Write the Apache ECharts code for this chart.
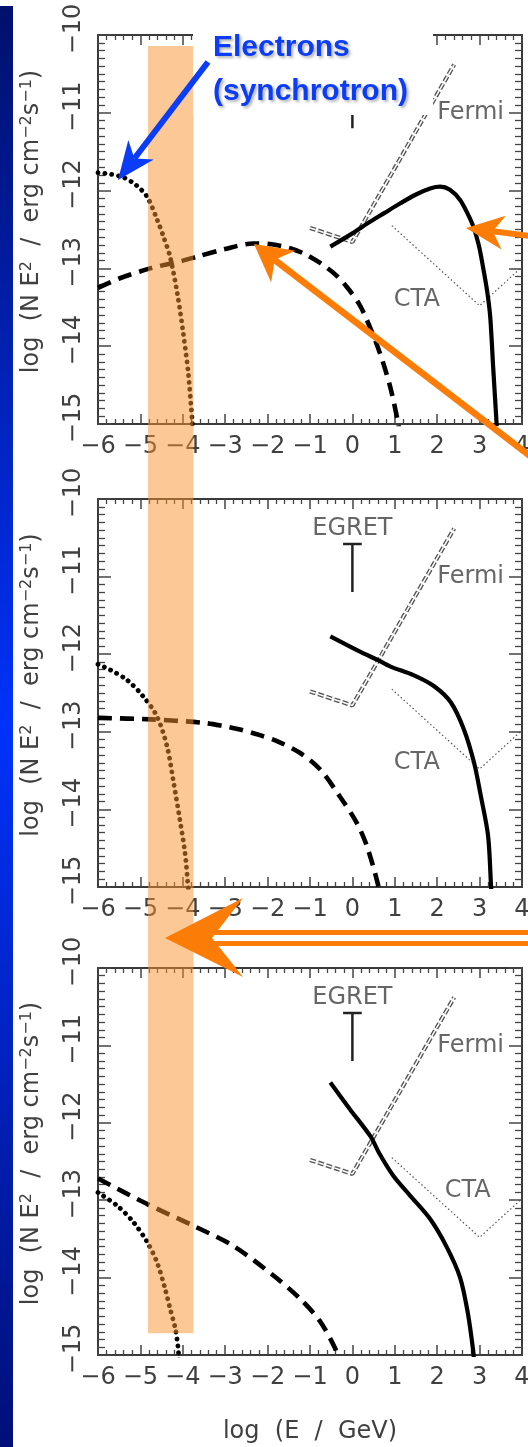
<!DOCTYPE html>
<html><head><meta charset="utf-8">
<script src="https://cdn.jsdelivr.net/npm/echarts@6/dist/echarts.min.js"></script>
<style>html,body{margin:0;padding:0;background:#fff}#c{width:528px;height:1447px}</style>
</head><body><div id="c"></div>
<script>
// ---------- data (log E [GeV], log NE^2 [erg cm^-2 s^-1]) ----------
const synchrotron1 = [[-6,-11.77],[-5.7,-11.79],[-5.4,-11.83],[-5.1,-11.93],[-4.84,-12.08],[-4.6,-12.38],[-4.45,-12.6],[-4.3,-12.85],[-4.13,-13.32],[-3.99,-13.83],[-3.87,-14.35],[-3.78,-14.95],[-3.76,-15.1]];
const inverseCompton1 = [[-6,-13.25],[-5.5,-13.13],[-4.77,-13.0],[-4,-12.9],[-3.67,-12.85],[-3,-12.75],[-2.34,-12.68],[-1.9,-12.69],[-1.47,-12.74],[-1.1,-12.82],[-0.76,-12.93],[-0.4,-13.08],[-0.13,-13.24],[0.15,-13.45],[0.34,-13.66],[0.65,-14.09],[0.89,-14.52],[1.08,-14.99],[1.1,-15.1]];
const hadronic1 = [[-0.52,-12.72],[0,-12.55],[0.36,-12.42],[0.75,-12.29],[1.14,-12.16],[1.5,-12.05],[1.85,-11.97],[2.07,-11.95],[2.3,-11.99],[2.54,-12.12],[2.72,-12.3],[2.85,-12.46],[2.98,-12.7],[3.08,-12.98],[3.18,-13.3],[3.25,-13.62],[3.32,-14.27],[3.4,-14.99],[3.41,-15.1]];

const synchrotron2 = [[-6,-12.13],[-5.72,-12.2],[-5.32,-12.33],[-4.94,-12.54],[-4.61,-12.8],[-4.37,-13.19],[-4.23,-13.61],[-4.07,-14.13],[-3.95,-14.55],[-3.88,-14.96],[-3.86,-15.1]];
const inverseCompton2 = [[-6,-12.82],[-4.77,-12.84],[-3.59,-12.88],[-3.1,-12.92],[-2.65,-12.97],[-2.2,-13.04],[-1.78,-13.12],[-1.24,-13.27],[-0.77,-13.48],[-0.3,-13.83],[0.1,-14.17],[0.34,-14.47],[0.6,-14.96],[0.63,-15.1]];
const hadronic2 = [[-0.52,-11.77],[0.19,-11.97],[0.58,-12.07],[0.9,-12.16],[1.44,-12.27],[1.92,-12.41],[2.32,-12.62],[2.63,-12.97],[2.87,-13.4],[3.03,-13.83],[3.2,-14.34],[3.27,-14.99],[3.28,-15.1]];

const synchrotron3 = [[-6,-12.9],[-5.55,-13.07],[-5.17,-13.28],[-4.84,-13.54],[-4.61,-13.8],[-4.42,-14.14],[-4.3,-14.4],[-4.18,-14.65],[-4.11,-14.91],[-4.09,-15.1]];
const inverseCompton3 = [[-6,-12.72],[-4.84,-13.05],[-3.75,-13.33],[-2.81,-13.59],[-1.87,-13.97],[-1.24,-14.27],[-0.77,-14.56],[-0.41,-14.91],[-0.35,-15.02]];
const hadronic3 = [[-0.52,-11.48],[-0.05,-11.83],[0.42,-12.17],[0.65,-12.41],[0.96,-12.68],[1.36,-12.94],[1.83,-13.24],[2.22,-13.6],[2.54,-14.0],[2.72,-14.45],[2.85,-14.95],[2.87,-15.1]];

const fermiSensitivity = [[-1.0,-12.48],[0,-12.66],[2.4,-10.38]];
const ctaSensitivity = [[0.93,-12.45],[3.0,-13.48],[4.0,-12.98]];
const egretStem = [[0,-11.2],[0,-10.58]];
const egretBar = [[-0.22,-10.58],[0.22,-10.58]];
const egretLabelPos = [0,-10.38];
const fermiLabelPos = [2.0,-11.0];
const ctaLabelPos = [[1.52,-13.4],[1.52,-13.4],[2.72,-12.88]];
const electronBand = [-4.82,-3.75];

const xRange = [-6,4], yRange = [-15,-10];
const panels = [
  {syn: synchrotron1, ic: inverseCompton1, had: hadronic1},
  {syn: synchrotron2, ic: inverseCompton2, had: hadronic2},
  {syn: synchrotron3, ic: inverseCompton3, had: hadronic3}
];

// ---------- chart ----------
const FONT = 'DejaVu Sans';
const FS = 24;
const TXT = '#404040';
const minus = v => String(v).replace('-', '\u2212');
const chart = echarts.init(document.getElementById('c'), null, {renderer: 'canvas'});

const grids = [
  {left: 98, top: 35, width: 424, height: 389, outerBoundsMode: 'none'},
  {left: 98, top: 499, width: 424, height: 388, outerBoundsMode: 'none'},
  {left: 98, top: 968, width: 424, height: 387, outerBoundsMode: 'none'}
];

const xAxes = [], yAxes = [], series = [];
const axisLine = {show: true, onZero: false, lineStyle: {color: '#3a3a3a', width: 2}};
grids.forEach((g, i) => {
  ['bottom', 'top'].forEach(pos => {
    xAxes.push({
      type: 'value', gridIndex: i, position: pos, min: xRange[0], max: xRange[1], interval: 1,
      axisLine, splitLine: {show: false},
      axisTick: {show: true, inside: true, length: 10, lineStyle: {color: '#444', width: 1.5}},
      minorTick: {show: true, splitNumber: 5, length: 5, lineStyle: {color: '#444', width: 1.3}},
      axisLabel: {show: pos === 'bottom', margin: 11, fontSize: FS, fontFamily: FONT, color: TXT,
        showMinLabel: true, showMaxLabel: true, hideOverlap: false, formatter: minus},
      name: (pos === 'bottom' && i === 2) ? 'log  (E  /  GeV)' : '',
      nameLocation: 'middle', nameGap: 65,
      nameTextStyle: {fontSize: FS, fontFamily: FONT, color: TXT}
    });
  });
  ['left', 'right'].forEach(pos => {
    yAxes.push({
      type: 'value', gridIndex: i, position: pos, min: yRange[0], max: yRange[1], interval: 1,
      axisLine, splitLine: {show: false},
      axisTick: {show: true, inside: true, length: 13, lineStyle: {color: '#444', width: 1.5}},
      minorTick: {show: true, splitNumber: 10, length: 7, lineStyle: {color: '#444', width: 1.3}},
      axisLabel: {show: pos === 'left', rotate: 90, margin: 12, fontSize: FS, fontFamily: FONT, color: TXT,
        showMinLabel: true, showMaxLabel: true, hideOverlap: false, formatter: minus, padding: [0, 0, 0, 12]},
      name: pos === 'left' ? '{a|log  (N E}{s|2}{a|  /  erg cm}{s|\u22122}{a|s}{s|\u22121}{a|)}' : '',
      nameLocation: 'middle', nameRotate: 90, nameGap: 52,
      nameTextStyle: {
        padding: [0, 0, 0, 16],
        rich: {
          a: {fontSize: FS, fontFamily: FONT, color: TXT, lineHeight: 25, verticalAlign: 'bottom'},
          s: {fontSize: 16, fontFamily: FONT, color: TXT, lineHeight: 16, verticalAlign: 'top', padding: [0, 0, 19, 0]}
        }
      }
    });
  });

  const xi = 2 * i, yi = 2 * i;
  const base = {type: 'line', xAxisIndex: xi, yAxisIndex: yi, symbol: 'none', animation: false, clip: true, silent: true};
  const p = panels[i];
  series.push(Object.assign({}, base, {name: 'Fermi outer', data: fermiSensitivity, z: 3,
    lineStyle: {color: '#555', width: 4.2, type: [6, 2.5]}}));
  series.push(Object.assign({}, base, {name: 'Fermi inner', data: fermiSensitivity, z: 4,
    lineStyle: {color: '#ffffff', width: 1.5, type: [6, 2.5]}}));
  series.push(Object.assign({}, base, {name: 'CTA', data: ctaSensitivity, z: 3,
    lineStyle: {color: '#555', width: 1.2, type: [1.5, 2.5]}}));
  series.push(Object.assign({}, base, {name: 'EGRET stem', data: egretStem, z: 3,
    lineStyle: {color: '#222', width: 2.5}}));
  series.push(Object.assign({}, base, {name: 'EGRET bar', data: egretBar, z: 3,
    lineStyle: {color: '#222', width: 2.5}}));
  const curve = {smooth: 0.3, z: 5};
  series.push(Object.assign({}, base, curve, {name: 'synchrotron', data: p.syn,
    lineStyle: {color: '#000', width: 4.8, type: [0.1, 6.8], cap: 'round'}}));
  series.push(Object.assign({}, base, curve, {name: 'inverse Compton', data: p.ic,
    lineStyle: {color: '#000', width: 4.6, type: [14, 8]}}));
  series.push(Object.assign({}, base, curve, {name: 'hadronic', data: p.had,
    lineStyle: {color: '#000', width: 4.2}}));
  const lbl = (name, pos, align) => ({
    type: 'scatter', xAxisIndex: xi, yAxisIndex: yi, symbolSize: 1, itemStyle: {color: 'rgba(0,0,0,0)'},
    silent: true, animation: false, z: 6, data: [pos],
    label: {show: true, position: 'inside', formatter: name, align: align, fontSize: FS, fontFamily: FONT, color: TXT}
  });
  series.push(lbl('EGRET', egretLabelPos, 'center'));
  series.push(lbl('Fermi', fermiLabelPos, 'left'));
  series.push(lbl('CTA', ctaLabelPos[i], 'center'));
});

chart.setOption({animation: false, grid: grids, xAxis: xAxes, yAxis: yAxes, series});

// ---------- annotations ----------
function arrow(tip, tail, headLen, halfW, notchLen, shaftW, color, z) {
  const dx = tail[0] - tip[0], dy = tail[1] - tip[1], L = Math.hypot(dx, dy);
  const ux = dx / L, uy = dy / L, px = -uy, py = ux;
  const b = [tip[0] + ux * headLen, tip[1] + uy * headLen];
  const n = [tip[0] + ux * notchLen, tip[1] + uy * notchLen];
  return [
    {type: 'line', z, shape: {x1: n[0], y1: n[1], x2: tail[0], y2: tail[1]}, style: {stroke: color, lineWidth: shaftW}},
    {type: 'polygon', z, shape: {points: [tip, [b[0] + px * halfW, b[1] + py * halfW], n, [b[0] - px * halfW, b[1] - py * halfW]]}, style: {fill: color}}
  ];
}
const bandL = chart.convertToPixel({gridIndex: 0}, [electronBand[0], -10.14]);
const bandR = chart.convertToPixel({gridIndex: 2}, [electronBand[1], -14.72]);
const ORANGE = '#fb7d07', BLUE = '#0b3cf8';
const graphic = [
  {type: 'rect', z: 100, shape: {x: 0, y: 6, width: 13, height: 1441},
    style: {fill: new echarts.graphic.LinearGradient(0, 0, 0, 1, [
      {offset: 0, color: '#00106c'}, {offset: 0.5, color: '#0032fa'}, {offset: 1, color: '#000f78'}])}},
  {type: 'rect', z: 110, shape: {x: bandL[0], y: bandL[1], width: bandR[0] - bandL[0], height: bandR[1] - bandL[1]},
    style: {fill: 'rgba(247,145,45,0.5)'}},
  {type: 'rect', z: 120, shape: {x: 193, y: 0, width: 240, height: 115}, style: {fill: '#fff'}},
  {type: 'text', z: 130, x: 213, y: 26, style: {text: 'Electrons\n(synchrotron)', font: 'bold 30px "Liberation Sans"', lineHeight: 44,
    fill: BLUE, textShadowColor: 'rgba(0,0,0,0.3)', textShadowBlur: 3, textShadowOffsetX: 2, textShadowOffsetY: 2}},
  ...arrow([118, 180], [208, 62], 38, 16, 27, 6, BLUE, 130),
  ...arrow([466, 228], [530, 236], 38, 17, 27, 6, ORANGE, 130),
  ...arrow([254, 244], [530, 456], 37, 20, 26, 6.5, ORANGE, 130),
  {type: 'polygon', z: 130, shape: {points: [[165, 938], [243, 898], [212, 938], [243, 977]]}, style: {fill: ORANGE}},
  {type: 'line', z: 130, shape: {x1: 214, y1: 932.5, x2: 530, y2: 932.5}, style: {stroke: ORANGE, lineWidth: 5}},
  {type: 'line', z: 130, shape: {x1: 214, y1: 943.5, x2: 530, y2: 943.5}, style: {stroke: ORANGE, lineWidth: 5}}
];
chart.setOption({graphic});
</script></body></html>
